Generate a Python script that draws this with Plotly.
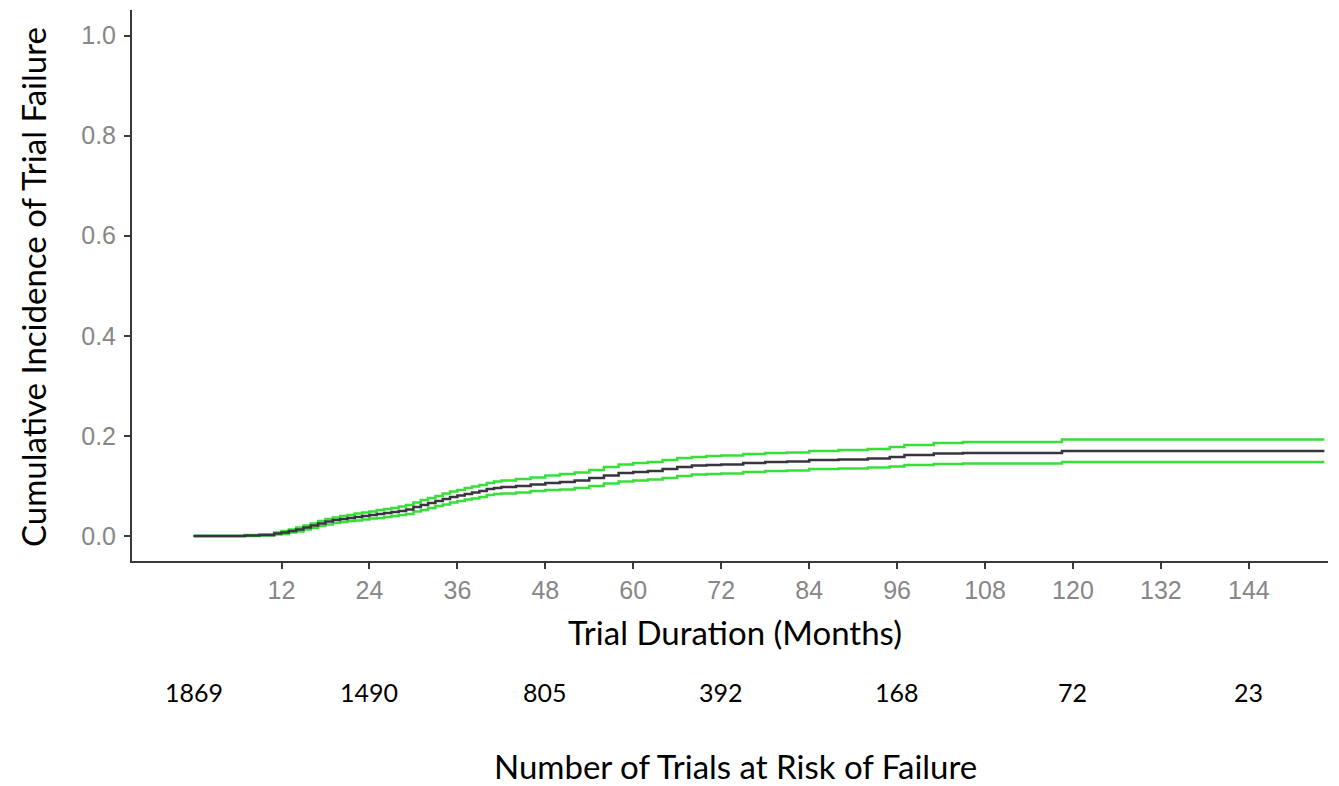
import plotly.graph_objects as go

# Months at which the step curves change
months = [0, 7, 9, 11, 12, 13, 14, 15, 16, 17, 18, 19, 20, 21, 22, 23, 24, 25, 26, 27,
          28, 29, 30, 31, 32, 33, 34, 35, 36, 37, 38, 39, 40, 41, 42, 44, 46, 48, 50,
          52, 54, 56, 58, 60, 62, 64, 66, 68, 70, 72, 75, 78, 81, 84, 88, 92, 95, 97,
          101, 105, 110, 118.5, 154.3]

cif = [0.000, 0.001, 0.002, 0.005, 0.007, 0.010, 0.013, 0.017, 0.021, 0.025, 0.029,
       0.032, 0.034, 0.036, 0.038, 0.040, 0.042, 0.044, 0.046, 0.048, 0.050, 0.053,
       0.058, 0.062, 0.066, 0.070, 0.074, 0.078, 0.081, 0.084, 0.087, 0.090, 0.094,
       0.096, 0.098, 0.100, 0.103, 0.106, 0.108, 0.111, 0.116, 0.121, 0.126, 0.128,
       0.130, 0.134, 0.138, 0.141, 0.142, 0.143, 0.146, 0.148, 0.149, 0.152, 0.153,
       0.155, 0.158, 0.162, 0.165, 0.166, 0.166, 0.170, 0.170]

upper = [0.000, 0.002, 0.003, 0.007, 0.010, 0.013, 0.017, 0.021, 0.025, 0.030, 0.034,
         0.037, 0.040, 0.042, 0.045, 0.047, 0.049, 0.052, 0.054, 0.056, 0.059, 0.062,
         0.067, 0.072, 0.076, 0.080, 0.085, 0.089, 0.092, 0.096, 0.099, 0.102, 0.106,
         0.109, 0.111, 0.114, 0.117, 0.121, 0.124, 0.127, 0.132, 0.138, 0.143, 0.146,
         0.148, 0.152, 0.156, 0.158, 0.160, 0.161, 0.164, 0.166, 0.167, 0.170, 0.172,
         0.174, 0.178, 0.182, 0.186, 0.188, 0.188, 0.193, 0.193]

lower = [0.000, 0.000, 0.001, 0.003, 0.004, 0.007, 0.009, 0.013, 0.016, 0.020, 0.023,
         0.026, 0.028, 0.030, 0.031, 0.033, 0.035, 0.036, 0.038, 0.040, 0.042, 0.044,
         0.049, 0.052, 0.056, 0.060, 0.063, 0.067, 0.070, 0.073, 0.075, 0.078, 0.082,
         0.084, 0.085, 0.087, 0.090, 0.092, 0.093, 0.096, 0.100, 0.105, 0.109, 0.111,
         0.113, 0.116, 0.120, 0.123, 0.124, 0.125, 0.128, 0.130, 0.131, 0.134, 0.135,
         0.137, 0.139, 0.142, 0.144, 0.145, 0.145, 0.148, 0.148]

x_ticks = [12, 24, 36, 48, 60, 72, 84, 96, 108, 120, 132, 144]
y_ticks = [0.0, 0.2, 0.4, 0.6, 0.8, 1.0]
y_tick_labels = ["0.0", "0.2", "0.4", "0.6", "0.8", "1.0"]

risk_months = [0, 24, 48, 72, 96, 120, 144]
risk_counts = ["1869", "1490", "805", "392", "168", "72", "23"]

# The page body has an 8px margin; size the figure so the plot lands where
# it sits in the reference screenshot.
OFF = 8
W, H = 1339 - OFF, 786 - OFF
L, R, T, B = 132 - OFF, 11, 10 - OFF, 225
pw, ph = W - L - R, H - T - B


def px2paper_x(px):
    return (px - OFF - L) / pw


def py2paper_y(py):
    return (H - B - (py - OFF)) / ph


GREEN = "rgb(55,224,55)"
DARK = "rgb(58,52,64)"

fig = go.Figure()
for ys in (upper, lower):
    fig.add_trace(go.Scatter(x=months, y=ys, mode="lines", line_shape="hv",
                             line=dict(color=GREEN, width=2.5), hoverinfo="skip",
                             showlegend=False))
fig.add_trace(go.Scatter(x=months, y=cif, mode="lines", line_shape="hv",
                         line=dict(color=DARK, width=2.5), showlegend=False))

TITLE_FONT = dict(family="Lato, sans-serif", size=33, color="black")

annotations = [
    dict(text="Cumulative Incidence of Trial Failure", textangle=-90,
         xref="paper", yref="paper", x=px2paper_x(33), y=py2paper_y(287),
         xanchor="center", yanchor="middle", showarrow=False, font=TITLE_FONT),
    dict(text="Trial Duration (Months)",
         xref="paper", yref="paper", x=px2paper_x(735), y=py2paper_y(632),
         xanchor="center", yanchor="middle", showarrow=False, font=TITLE_FONT),
    dict(text="Number of Trials at Risk of Failure",
         xref="paper", yref="paper", x=px2paper_x(735), y=py2paper_y(766),
         xanchor="center", yanchor="middle", showarrow=False, font=TITLE_FONT),
]
for m, c in zip(risk_months, risk_counts):
    annotations.append(dict(text=c, xref="x", yref="paper", x=m, y=py2paper_y(692),
                            xanchor="center", yanchor="middle", showarrow=False,
                            font=dict(family="Lato, sans-serif", size=25, color="black")))

TICK_FONT = dict(family="Liberation Sans, Arial, sans-serif", size=25, color="#878787")

fig.update_layout(
    width=W, height=H,
    margin=dict(l=L, r=R, t=T, b=B),
    paper_bgcolor="white", plot_bgcolor="white",
    annotations=annotations,
    xaxis=dict(range=[-8.4, 154.8], tickvals=x_ticks, ticktext=[str(v) for v in x_ticks],
               showgrid=False, zeroline=False, showline=True, linecolor="#3a3a3a",
               linewidth=2, ticks="outside", ticklen=6, tickwidth=2, tickcolor="#3a3a3a",
               tickfont=TICK_FONT, ticklabelstandoff=0),
    yaxis=dict(range=[-0.05, 1.051], tickvals=y_ticks, ticktext=y_tick_labels,
               showgrid=False, zeroline=False, showline=True, linecolor="#3a3a3a",
               linewidth=2, ticks="outside", ticklen=6, tickwidth=2, tickcolor="#3a3a3a",
               tickfont=TICK_FONT, ticklabelstandoff=3),
)

fig.write_html("out.html")
